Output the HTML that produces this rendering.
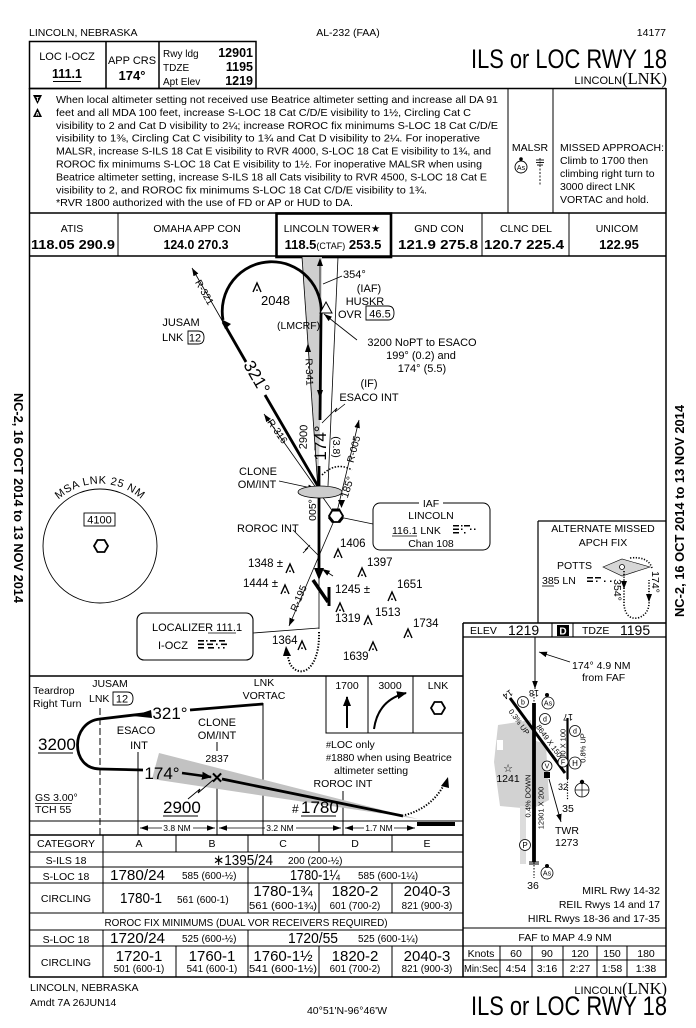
<!DOCTYPE html>
<html><head><meta charset="utf-8">
<style>
html,body{margin:0;padding:0;background:#fff;}
svg{display:block;}
text{font-family:"Liberation Sans",Arial,sans-serif;fill:#000;}
.b{font-weight:bold;}
.s{font-family:"Liberation Serif",serif;}
</style></head><body>
<svg width="696" height="1028" viewBox="0 0 696 1028" xmlns="http://www.w3.org/2000/svg">
<defs>
<marker id="a" markerUnits="userSpaceOnUse" markerWidth="8" markerHeight="8" viewBox="0 0 10 10" refX="10" refY="5" orient="auto"><path d="M0,1.5 L10,5 L0,8.5 z" fill="#000"/></marker>
<marker id="ab" markerUnits="userSpaceOnUse" markerWidth="10" markerHeight="10" viewBox="0 0 10 10" refX="9" refY="5" orient="auto"><path d="M0,1 L10,5 L0,9 z" fill="#000"/></marker>
<g id="ob"><path d="M-4,5 L0,-4 L4,5" fill="none" stroke="#000" stroke-width="1.4"/><circle cx="0" cy="3.2" r="0.9" fill="#000"/></g>
<g id="hex"><polygon points="7,0 3.5,-6 -3.5,-6 -7,0 -3.5,6 3.5,6" fill="#fff" stroke="#000" stroke-width="1.8"/></g>
</defs>

<!-- top line -->
<text x="29" y="36" font-size="10.5">LINCOLN, NEBRASKA</text>
<text x="348" y="36" font-size="10.5" text-anchor="middle">AL-232 (FAA)</text>
<text x="666" y="36" font-size="10.5" text-anchor="end">14177</text>

<!-- header box -->
<g stroke="#000" fill="none" stroke-width="1.5">
<rect x="29.5" y="41.5" width="226.5" height="47"/>
<line x1="106" y1="41.5" x2="106" y2="88.5"/>
<line x1="159" y1="41.5" x2="159" y2="88.5"/>
</g>
<text x="67" y="60" font-size="11" text-anchor="middle">LOC I-OCZ</text>
<text x="67" y="78" font-size="12.5" class="b" text-anchor="middle">111.1</text>
<line x1="53" y1="81.5" x2="81" y2="81.5" stroke="#000" stroke-width="1"/>
<text x="132" y="64" font-size="11" text-anchor="middle">APP CRS</text>
<text x="132" y="80" font-size="13" class="b" text-anchor="middle">174°</text>
<text x="163" y="57" font-size="10">Rwy ldg</text><text x="253" y="57" font-size="12.5" class="b" text-anchor="end">12901</text>
<text x="163" y="71" font-size="10">TDZE</text><text x="253" y="71" font-size="12.5" class="b" text-anchor="end">1195</text>
<text x="163" y="85" font-size="10">Apt Elev</text><text x="253" y="85" font-size="12.5" class="b" text-anchor="end">1219</text>

<text x="667" y="68" font-size="27" text-anchor="end" textLength="196" lengthAdjust="spacingAndGlyphs">ILS or LOC RWY 18</text>
<text x="667" y="84" text-anchor="end"><tspan font-size="11">LINCOLN</tspan><tspan class="s" font-size="16.5">(LNK)</tspan></text>

<!-- main frame -->
<g stroke="#000" fill="none" stroke-width="1.5">
<line x1="29.5" y1="88.5" x2="666" y2="88.5"/>
<line x1="29.5" y1="88" x2="29.5" y2="977.5"/>
<line x1="666" y1="88" x2="666" y2="977.5"/>
<line x1="29.5" y1="213" x2="666" y2="213"/>
<line x1="29.5" y1="256" x2="666" y2="256"/>
<line x1="29" y1="977" x2="666.5" y2="977"/>
<line x1="508" y1="88" x2="508" y2="213" stroke-width="1"/>
<line x1="553" y1="88" x2="553" y2="213" stroke-width="1"/>
<line x1="118" y1="213" x2="118" y2="256" stroke-width="1"/>
<line x1="482" y1="213" x2="482" y2="256" stroke-width="1"/>
<line x1="569" y1="213" x2="569" y2="256" stroke-width="1"/>
<rect x="276.5" y="213.5" width="114.5" height="43.5" stroke-width="2.6"/>
</g>

<!-- notes -->
<polygon points="33,95 42,95 37.5,104" fill="#000"/>
<text x="37.5" y="101" font-size="5.5" style="fill:#fff" text-anchor="middle" class="b">T</text>
<polygon points="37.5,108 33,117 42,117" fill="#000"/>
<text x="37.5" y="116" font-size="5.5" style="fill:#fff" text-anchor="middle" class="b">A</text>
<g font-size="10.5">
<text x="56" y="103" textLength="442" lengthAdjust="spacingAndGlyphs">When local altimeter setting not received use Beatrice altimeter setting and increase all DA 91</text>
<text x="56" y="115.9" textLength="415" lengthAdjust="spacingAndGlyphs">feet and all MDA 100 feet, increase S-LOC 18 Cat C/D/E visibility to 1½, Circling Cat C</text>
<text x="56" y="128.8" textLength="442" lengthAdjust="spacingAndGlyphs">visibility to 2 and Cat D visibility to 2¼;  increase ROROC fix minimums S-LOC 18 Cat C/D/E</text>
<text x="56" y="141.7" textLength="424" lengthAdjust="spacingAndGlyphs">visibility to 1⅜, Circling Cat C visibility to 1¾ and Cat D visibility to 2¼.  For inoperative</text>
<text x="56" y="154.6" textLength="435" lengthAdjust="spacingAndGlyphs">MALSR, increase S-ILS 18 Cat E visibility to RVR 4000, S-LOC 18 Cat E visibility to 1¾, and</text>
<text x="56" y="167.5" textLength="426" lengthAdjust="spacingAndGlyphs">ROROC fix minimums S-LOC 18 Cat E visibility to 1½.  For inoperative MALSR when using</text>
<text x="56" y="180.4" textLength="431" lengthAdjust="spacingAndGlyphs">Beatrice altimeter setting, increase S-ILS 18 all Cats visibility to RVR 4500, S-LOC 18 Cat E</text>
<text x="56" y="193.3" textLength="371" lengthAdjust="spacingAndGlyphs">visibility to 2, and ROROC fix minimums S-LOC 18 Cat C/D/E visibility to 1¾.</text>
<text x="56" y="206.2" textLength="297" lengthAdjust="spacingAndGlyphs">*RVR 1800 authorized with the use of FD or AP or HUD to DA.</text>
</g>
<text x="530" y="151" font-size="10.5" text-anchor="middle">MALSR</text>
<circle cx="521" cy="159" r="1.8" fill="#000"/>
<circle cx="521" cy="167" r="6" fill="none" stroke="#000" stroke-width="0.9"/>
<text x="521" y="170" font-size="7" text-anchor="middle">As</text>
<g stroke="#000" stroke-width="0.9">
<line x1="536" y1="160" x2="544" y2="160"/><line x1="536" y1="162.5" x2="544" y2="162.5"/><line x1="537" y1="165" x2="543" y2="165"/>
<line x1="540" y1="158" x2="540" y2="186" stroke-dasharray="2,1.5"/>
</g>
<g font-size="10.5">
<text x="560" y="151" textLength="104" lengthAdjust="spacingAndGlyphs">MISSED APPROACH:</text>
<text x="560" y="164">Climb to 1700 then</text>
<text x="560" y="177">climbing right turn to</text>
<text x="560" y="190">3000 direct LNK</text>
<text x="560" y="203">VORTAC and hold.</text>
</g>

<!-- frequency row -->
<g font-size="10.5" text-anchor="middle">
<text x="72" y="232">ATIS</text>
<text x="197" y="232">OMAHA APP CON</text>
<text x="332" y="232">LINCOLN TOWER★</text>
<text x="439" y="232">GND CON</text>
<text x="526" y="232">CLNC DEL</text>
<text x="617" y="232">UNICOM</text>
</g>
<g font-size="13" class="b" text-anchor="middle">
<text x="73" y="249" textLength="84" lengthAdjust="spacingAndGlyphs">118.05  290.9</text>
<text x="196" y="249" textLength="65" lengthAdjust="spacingAndGlyphs">124.0  270.3</text>
<text x="438" y="249" textLength="80" lengthAdjust="spacingAndGlyphs">121.9  275.8</text>
<text x="524" y="249" textLength="80" lengthAdjust="spacingAndGlyphs">120.7  225.4</text>
<text x="619" y="249">122.95</text>
</g>
<text x="333" y="249" text-anchor="middle"><tspan font-size="13" class="b">118.5</tspan><tspan font-size="9">(CTAF)</tspan><tspan font-size="13" class="b"> 253.5</tspan></text>

<!-- margin dates -->
<text transform="translate(14,498) rotate(90)" font-size="13" class="b" text-anchor="middle" textLength="210" lengthAdjust="spacingAndGlyphs">NC-2, 16 OCT 2014 to 13 NOV 2014</text>
<text transform="translate(684,511) rotate(-90)" font-size="13" class="b" text-anchor="middle" textLength="212" lengthAdjust="spacingAndGlyphs">NC-2, 16 OCT 2014 to 13 NOV 2014</text>

<!-- ============ PLAN VIEW ============ -->
<polygon points="302,257 322,257 320,430 318,490" fill="#cfcfcf"/>
<g stroke="#000" fill="none" stroke-width="0.8">
<line x1="302" y1="257" x2="318" y2="490"/>
<line x1="338" y1="257" x2="328" y2="486"/>
<line x1="320" y1="262" x2="320" y2="300"/>
<line x1="336" y1="516" x2="264" y2="414" marker-end="url(#a)"/>
<line x1="336" y1="516" x2="289" y2="626" marker-end="url(#a)"/>
<line x1="336" y1="516" x2="359" y2="420" marker-end="url(#a)"/>
<line x1="223" y1="322" x2="192" y2="268" marker-end="url(#a)"/>
<line x1="342" y1="276" x2="323" y2="284"/>
<line x1="357" y1="340" x2="324" y2="314" marker-end="url(#a)"/>
<line x1="279" y1="481" x2="316" y2="489" marker-end="url(#a)"/>
<line x1="293" y1="530" x2="318" y2="555"/>
<line x1="333" y1="576" x2="322" y2="569" marker-end="url(#a)"/>
<line x1="373" y1="524" x2="344" y2="518"/>
<line x1="319" y1="578" x2="319" y2="629"/>
<line x1="319" y1="628" x2="253" y2="633"/>
<path d="M345,404 L335,412 L337,408 L322,423" />
<path d="M310,545 L305,550 L308,548 L303,553"/>
<path d="M322,475 Q336,461 352,470" stroke-dasharray="1.5,1.5" stroke-width="1.5"/>
</g>
<polygon points="305,352 311,352 308,343" fill="#000"/>
<polygon points="317,390 323,390 320,399" fill="#000"/>
<polygon points="317,266 323,266 320,258" fill="#000"/>

<!-- teardrop and course -->
<g stroke="#000" fill="none" stroke-width="2.8">
<path d="M223,320 A49.5,49.5 0 1 1 321,316 L320,420"/>
<line x1="223" y1="322" x2="246" y2="362"/>
<line x1="265" y1="395" x2="319" y2="488"/>
<line x1="319" y1="466" x2="319" y2="570"/>
<path d="M313,580 L328,602" stroke-width="3.5"/>
<line x1="329" y1="587" x2="329" y2="606" stroke-width="3"/>
</g>
<polygon points="221,319 231,324 225,329" fill="#000"/>
<polygon points="314,568 324,568 319,580" fill="#000"/>
<path d="M319,632 C320,670 300,680 290,664 L287,654" fill="none" stroke="#000" stroke-width="2" stroke-dasharray="1.3,1.6"/>
<polygon points="283,656 291,656 286,646" fill="#000"/>
<text transform="translate(257,377) rotate(60)" font-size="17" text-anchor="middle" dy="6">321°</text>
<text transform="translate(320,443) rotate(-90)" font-size="17" text-anchor="middle" dy="6">174°</text>
<text transform="translate(303,437) rotate(-88)" font-size="11" text-anchor="middle" dy="4">2900</text>
<text transform="translate(337,447) rotate(90)" font-size="10.5" text-anchor="middle" dy="4">(3.8)</text>
<text transform="translate(353,449) rotate(-75)" font-size="10" text-anchor="middle" dy="4">R-005</text>
<text transform="translate(347,487) rotate(-72)" font-size="10.5" text-anchor="middle" dy="4">185°</text>
<text transform="translate(312,510) rotate(-90)" font-size="10.5" text-anchor="middle" dy="4">005°</text>
<text transform="translate(310,372) rotate(88)" font-size="10" text-anchor="middle" dy="4">R-341</text>
<text transform="translate(278,431) rotate(55)" font-size="10" text-anchor="middle" dy="4">R-316</text>
<text transform="translate(205,292) rotate(60)" font-size="10" text-anchor="middle" dy="4">R-321</text>
<text transform="translate(298,598) rotate(-67)" font-size="10" text-anchor="middle" dy="4">R-195</text>

<ellipse cx="320" cy="492" rx="22" ry="6" fill="#cdcdcd" stroke="#000" stroke-width="0.8"/>
<polygon points="338,500 345,500 341.5,508" fill="#000"/>
<use href="#hex" x="336" y="516"/>
<g stroke="#000" stroke-width="3"><line x1="332" y1="510" x2="340" y2="510"/><line x1="343" y1="517" x2="339" y2="522"/><line x1="329" y1="517" x2="333" y2="522"/></g>

<!-- plan labels -->
<use href="#ob" x="257" y="287"/>
<text x="261" y="305" font-size="13">2048</text>
<polygon points="326,302 332,313 320,313" fill="#fff" stroke="#000" stroke-width="1"/>
<text x="343" y="278" font-size="11">354°</text>
<text x="369" y="292" font-size="11" text-anchor="middle">(IAF)</text>
<text x="365" y="305" font-size="11" text-anchor="middle">HUSKR</text>
<text x="338" y="318" font-size="11">OVR</text>
<path d="M366,306 H388 Q394,306 394,313 Q394,320 388,320 H366 Z" fill="none" stroke="#000" stroke-width="0.9"/>
<text x="380" y="317.5" font-size="11" text-anchor="middle">46.5</text>
<text x="277" y="329" font-size="10.5">(LMCRF)</text>
<text x="181" y="326" font-size="11" text-anchor="middle">JUSAM</text>
<text x="162" y="341" font-size="11">LNK</text>
<path d="M188,331 H198 Q204,331 204,337.5 Q204,344 198,344 H188 Z" fill="none" stroke="#000" stroke-width="0.9"/>
<text x="195" y="341.5" font-size="11" text-anchor="middle">12</text>
<g font-size="11" text-anchor="middle">
<text x="422" y="346">3200 NoPT to ESACO</text>
<text x="421" y="359">199° (0.2) and</text>
<text x="422" y="372">174° (5.5)</text>
<text x="369" y="387">(IF)</text>
<text x="369" y="401">ESACO INT</text>
<text x="258" y="475">CLONE</text>
<text x="257" y="488">OM/INT</text>
</g>
<text x="237" y="532" font-size="11">ROROC INT</text>

<!-- IAF box -->
<rect x="373" y="503" width="117" height="47" rx="7" fill="none" stroke="#000" stroke-width="1"/>
<rect x="419" y="498" width="24" height="9" fill="#fff"/>
<g font-size="10.5" text-anchor="middle">
<text x="431" y="507">IAF</text>
<text x="431" y="519">LINCOLN</text>
<text x="431" y="547">Chan 108</text>
</g>
<text x="392" y="534" font-size="10.5">116.1 LNK</text>
<line x1="392" y1="536" x2="417" y2="536" stroke="#000" stroke-width="0.8"/>
<g fill="#000"><rect x="453" y="525" width="6" height="1.5"/><rect x="461" y="525" width="1.5" height="1.5"/><rect x="464" y="525" width="6" height="1.5"/><rect x="453" y="528.5" width="6" height="1.5"/><rect x="461" y="528.5" width="1.5" height="1.5"/><rect x="470" y="528.5" width="1.5" height="1.5"/><rect x="474" y="528.5" width="1.5" height="1.5"/><rect x="453" y="532" width="6" height="1.5"/><rect x="464" y="532" width="1.5" height="1.5"/></g>

<!-- MSA circle -->
<circle cx="100" cy="546" r="57" fill="none" stroke="#000" stroke-width="0.9"/>
<path id="msa" d="M40,530 A62,62 0 0 1 160,530" fill="none"/>
<text font-size="11" letter-spacing="0.6"><textPath href="#msa" startOffset="50%" text-anchor="middle">MSA LNK 25 NM</textPath></text>
<rect x="84" y="513" width="31" height="13" fill="none" stroke="#000" stroke-width="0.9"/>
<text x="99.5" y="523.5" font-size="11" text-anchor="middle">4100</text>
<use href="#hex" x="101" y="546"/>

<!-- obstacles -->
<g font-size="11.5">
<use href="#ob" x="338" y="553"/><text x="340" y="547">1406</text>
<use href="#ob" x="362" y="572"/><text x="367" y="566">1397</text>
<use href="#ob" x="290" y="568"/><text x="248" y="567">1348 ±</text>
<use href="#ob" x="285" y="589"/><text x="243" y="587">1444 ±</text>
<text x="335" y="593">1245 ±</text>
<use href="#ob" x="392" y="596"/><text x="397" y="588">1651</text>
<use href="#ob" x="340" y="607"/><text x="335" y="622">1319</text>
<use href="#ob" x="368" y="620"/><text x="375" y="616">1513</text>
<use href="#ob" x="408" y="633"/><text x="413" y="627">1734</text>
<use href="#ob" x="373" y="646"/><text x="343" y="660">1639</text>
<use href="#ob" x="302" y="645"/><text x="272" y="644">1364</text>
</g>

<!-- LOCALIZER box -->
<rect x="137" y="613" width="116" height="47" rx="7" fill="none" stroke="#000" stroke-width="1.1"/>
<text x="152" y="631" font-size="11">LOCALIZER 111.1</text>
<line x1="208" y1="633" x2="236" y2="633" stroke="#000" stroke-width="0.8"/>
<text x="158" y="649" font-size="11">I-OCZ</text>
<g fill="#000"><rect x="198" y="640" width="6" height="1.6"/><rect x="206" y="640" width="1.6" height="1.6"/><rect x="210" y="640" width="6" height="1.6"/><rect x="219" y="640" width="6" height="1.6"/><rect x="198" y="643.5" width="6" height="1.6"/><rect x="207" y="643.5" width="6" height="1.6"/><rect x="216" y="643.5" width="1.6" height="1.6"/><rect x="221" y="643.5" width="6" height="1.6"/><rect x="198" y="647" width="6" height="1.6"/><rect x="208" y="647" width="6" height="1.6"/><rect x="218" y="647" width="1.6" height="1.6"/><rect x="223" y="647" width="1.6" height="1.6"/></g>

<!-- alternate missed box -->
<g stroke="#000" stroke-width="1.2" fill="none">
<line x1="538" y1="521" x2="666" y2="521"/>
<line x1="538" y1="521" x2="538" y2="623"/>
<line x1="29.5" y1="676" x2="463" y2="676" stroke-width="1.5"/>
<line x1="463" y1="623" x2="463" y2="977" stroke-width="1.5"/>
<line x1="463" y1="623" x2="666" y2="623" stroke-width="1.5"/>
<line x1="463" y1="637" x2="666" y2="637"/>
</g>
<text x="603" y="532" font-size="10.5" text-anchor="middle">ALTERNATE MISSED</text>
<text x="603" y="546" font-size="10.5" text-anchor="middle">APCH FIX</text>
<text x="557" y="569" font-size="10.5">POTTS</text>
<text x="542" y="584" font-size="10.5">385  LN</text>
<line x1="542" y1="586" x2="554" y2="586" stroke="#000" stroke-width="0.8"/>
<g fill="#000"><rect x="587" y="577" width="6" height="1.5"/><rect x="595" y="577" width="6" height="1.5"/><rect x="587" y="580.5" width="6" height="1.5"/><rect x="596" y="580.5" width="1.5" height="1.5"/><rect x="604" y="580.5" width="1.5" height="1.5"/><rect x="610" y="580.5" width="1.5" height="1.5"/></g>
<polygon points="603,567 622,559 650,567 622,576" fill="#d6d6d6" stroke="#000" stroke-width="0.6"/>
<circle cx="622" cy="567" r="2.5" fill="#fff" stroke="#000" stroke-width="0.8"/>
<path d="M624,571 L624,605 Q626,620 638,618 Q650,614 649,600 L649,580 M630,558 Q648,556 652,568" fill="none" stroke="#000" stroke-width="1.6" stroke-dasharray="1.2,1.6"/>
<polygon points="621,581 627,581 624,589" fill="#000"/>
<polygon points="646,594 652,594 649,602" fill="#000"/>
<text transform="translate(655,582) rotate(90)" font-size="10.5" text-anchor="middle" dy="3">174°</text>
<text transform="translate(617,590) rotate(90)" font-size="10.5" text-anchor="middle" dy="3">354°</text>

<!-- ============ PROFILE ============ -->
<g stroke="#000" fill="none" stroke-width="1">
<rect x="326" y="676" width="137" height="57"/>
<line x1="368" y1="676" x2="368" y2="733"/>
<line x1="413" y1="676" x2="413" y2="733"/>
<line x1="29.5" y1="821" x2="463" y2="821"/>
<line x1="29.5" y1="835" x2="463" y2="835" stroke-width="1.5"/>
<line x1="100" y1="708" x2="100" y2="835" stroke-dasharray="7,3"/>
<line x1="138" y1="752" x2="138" y2="835"/>
<line x1="217" y1="742" x2="217" y2="751"/>
<line x1="217" y1="782" x2="217" y2="835"/>
<line x1="263" y1="703" x2="263" y2="835"/>
<line x1="343" y1="791" x2="343" y2="835"/>
</g>
<text x="347" y="689" font-size="10.5" text-anchor="middle">1700</text>
<text x="390" y="689" font-size="10.5" text-anchor="middle">3000</text>
<text x="438" y="689" font-size="10.5" text-anchor="middle">LNK</text>
<line x1="347" y1="728" x2="347" y2="697" stroke="#000" stroke-width="2" marker-end="url(#ab)"/>
<path d="M374,729 Q378,700 406,693" fill="none" stroke="#000" stroke-width="2" marker-end="url(#ab)"/>
<use href="#hex" x="438" y="708"/>
<g font-size="10.5">
<text x="326" y="748"><tspan font-size="9">#</tspan>LOC only</text>
<text x="326" y="761"><tspan font-size="9">#</tspan>1880 when using Beatrice</text>
<text x="334" y="774">altimeter setting</text>
<text x="343" y="787" text-anchor="middle">ROROC INT</text>
<text x="33" y="694">Teardrop</text>
<text x="33" y="707">Right Turn</text>
<text x="110" y="687" text-anchor="middle">JUSAM</text>
<text x="89" y="702">LNK</text>
<text x="264" y="686" text-anchor="middle">LNK</text>
<text x="264" y="699" text-anchor="middle">VORTAC</text>
<text x="136" y="734" text-anchor="middle" font-size="11">ESACO</text>
<text x="139" y="749" text-anchor="middle" font-size="11">INT</text>
<text x="217" y="726" text-anchor="middle" font-size="11">CLONE</text>
<text x="217" y="739" text-anchor="middle" font-size="11">OM/INT</text>
<text x="217" y="762" text-anchor="middle">2837</text>
<text x="35" y="801">GS 3.00°</text>
<text x="35" y="813">TCH 55</text>
</g>
<path d="M113,692 H127 Q133,692 133,698.5 Q133,705 127,705 H113 Z" fill="none" stroke="#000" stroke-width="0.9"/>
<text x="122" y="702.5" font-size="11" text-anchor="middle">12</text>
<line x1="35" y1="803.5" x2="72" y2="803.5" stroke="#000" stroke-width="0.8"/>

<polygon points="159,753 418,819 152,779" fill="#c2c2c2"/>
<g stroke="#000" fill="none" stroke-width="2.8">
<line x1="263" y1="704" x2="190" y2="710"/>
<path d="M151,713 L100,719 C70,722 70,769 100,769 L143,770"/>
<line x1="222" y1="779" x2="403" y2="816"/>
</g>
<polygon points="133,716 151,710 152,718" fill="#000"/>
<line x1="182" y1="773" x2="211" y2="777" stroke="#000" stroke-width="2.5" marker-end="url(#ab)"/>
<text x="170" y="719" font-size="17" text-anchor="middle">321°</text>
<text x="162" y="779" font-size="17" text-anchor="middle">174°</text>
<text x="217" y="783" font-size="15" class="b" text-anchor="middle">✕</text>
<path d="M405,815 Q432,808 445,783" fill="none" stroke="#000" stroke-width="2" stroke-dasharray="1.3,1.6"/>
<polygon points="441,786 449,788 448,777" fill="#000"/>
<path d="M188,799 L200,789 L198,793 L213,780" fill="none" stroke="#000" stroke-width="0.9"/>
<text x="38" y="750" font-size="17">3200</text>
<line x1="38" y1="753" x2="73" y2="753" stroke="#000" stroke-width="1"/>
<text x="163" y="813" font-size="17">2900</text>
<line x1="163" y1="816" x2="198" y2="816" stroke="#000" stroke-width="1"/>
<text x="292" y="813" font-size="12">#</text>
<text x="301" y="813" font-size="17">1780</text>
<line x1="301" y1="816" x2="336" y2="816" stroke="#000" stroke-width="1"/>
<rect x="417" y="822" width="38" height="4" fill="#000"/>
<g font-size="8.5" text-anchor="middle">
<text x="177" y="831">3.8 NM</text>
<text x="280" y="831">3.2 NM</text>
<text x="379" y="831">1.7 NM</text>
</g>
<g stroke="#000" stroke-width="0.8" fill="none">
<line x1="162" y1="828" x2="140" y2="828" marker-end="url(#a)"/><line x1="193" y1="828" x2="215" y2="828" marker-end="url(#a)"/>
<line x1="265" y1="828" x2="219" y2="828" marker-end="url(#a)"/><line x1="296" y1="828" x2="341" y2="828" marker-end="url(#a)"/>
<line x1="364" y1="828" x2="345" y2="828" marker-end="url(#a)"/><line x1="394" y1="828" x2="415" y2="828" marker-end="url(#a)"/>
</g>

<!-- ============ MINIMUMS TABLE ============ -->
<g stroke="#000" stroke-width="1" fill="none">
<line x1="29.5" y1="852" x2="463" y2="852"/>
<line x1="29.5" y1="867" x2="463" y2="867"/>
<line x1="29.5" y1="883" x2="463" y2="883"/>
<line x1="29.5" y1="913" x2="463" y2="913"/>
<line x1="29.5" y1="930" x2="463" y2="930"/>
<line x1="29.5" y1="946" x2="463" y2="946"/>
<line x1="103" y1="835" x2="103" y2="913"/>
<line x1="103" y1="930" x2="103" y2="977"/>
<line x1="176" y1="835" x2="176" y2="852"/>
<line x1="176" y1="946" x2="176" y2="977"/>
<line x1="248" y1="835" x2="248" y2="852"/>
<line x1="248" y1="867" x2="248" y2="913"/>
<line x1="248" y1="930" x2="248" y2="977"/>
<line x1="319" y1="835" x2="319" y2="852"/>
<line x1="319" y1="883" x2="319" y2="913"/>
<line x1="319" y1="946" x2="319" y2="977"/>
<line x1="392" y1="835" x2="392" y2="852"/>
<line x1="392" y1="883" x2="392" y2="913"/>
<line x1="392" y1="946" x2="392" y2="977"/>
</g>
<g font-size="10.5" text-anchor="middle">
<text x="66" y="847">CATEGORY</text>
<text x="139" y="847">A</text><text x="212" y="847">B</text><text x="283" y="847">C</text><text x="355" y="847">D</text><text x="427" y="847">E</text>
<text x="66" y="864">S-ILS 18</text>
<text x="66" y="880">S-LOC 18</text>
<text x="66" y="902">CIRCLING</text>
<text x="246" y="926" textLength="283" lengthAdjust="spacingAndGlyphs">ROROC FIX MINIMUMS (DUAL VOR RECEIVERS REQUIRED)</text>
<text x="66" y="943">S-LOC 18</text>
<text x="66" y="966">CIRCLING</text>
</g>
<g font-size="15">
<text x="213" y="865" textLength="60" lengthAdjust="spacingAndGlyphs">∗1395/24</text>
<text x="110" y="880" textLength="55" lengthAdjust="spacingAndGlyphs">1780/24</text>
<text x="290" y="880" textLength="50" lengthAdjust="spacingAndGlyphs">1780-1¼</text>
<text x="120" y="903" textLength="42" lengthAdjust="spacingAndGlyphs">1780-1</text>
<text x="110" y="943" textLength="55" lengthAdjust="spacingAndGlyphs">1720/24</text>
<text x="288" y="943" textLength="50" lengthAdjust="spacingAndGlyphs">1720/55</text>
</g>
<g font-size="15" text-anchor="middle">
<text x="283" y="896">1780-1¾</text>
<text x="355" y="896">1820-2</text>
<text x="427" y="896">2040-3</text>
<text x="139" y="961">1720-1</text>
<text x="212" y="961">1760-1</text>
<text x="283" y="961">1760-1½</text>
<text x="355" y="961">1820-2</text>
<text x="427" y="961">2040-3</text>
</g>
<g font-size="10">
<text x="288" y="864">200 (200-½)</text>
<text x="182" y="879">585 (600-½)</text>
<text x="358" y="879">585 (600-1¼)</text>
<text x="177" y="903">561 (600-1)</text>
<text x="182" y="942">525 (600-½)</text>
<text x="358" y="942">525 (600-1¼)</text>
</g>
<g font-size="9.8" text-anchor="middle">
<text x="283" y="909" textLength="68" lengthAdjust="spacingAndGlyphs">561 (600-1¾)</text>
<text x="355" y="909">601 (700-2)</text>
<text x="427" y="909">821 (900-3)</text>
<text x="139" y="972">501 (600-1)</text>
<text x="212" y="972">541 (600-1)</text>
<text x="283" y="972" textLength="68" lengthAdjust="spacingAndGlyphs">541 (600-1½)</text>
<text x="355" y="972">601 (700-2)</text>
<text x="427" y="972">821 (900-3)</text>
</g>

<!-- ============ AIRPORT PANEL ============ -->
<text x="470" y="634" font-size="10.5">ELEV</text>
<text x="508" y="635" font-size="14">1219</text>
<line x1="552" y1="623" x2="552" y2="637" stroke="#000" stroke-width="1"/>
<rect x="557" y="625" width="12" height="11" fill="#000"/>
<text x="563" y="634.5" font-size="10" class="b" text-anchor="middle" style="fill:#fff">D</text>
<line x1="573" y1="623" x2="573" y2="637" stroke="#000" stroke-width="1"/>
<text x="582" y="634" font-size="10.5">TDZE</text>
<text x="620" y="635" font-size="14">1195</text>

<line x1="535" y1="637" x2="535" y2="689" stroke="#000" stroke-width="1" marker-end="url(#a)"/>
<line x1="570" y1="662" x2="539" y2="652" stroke="#000" stroke-width="0.9" marker-end="url(#a)"/>
<text x="572" y="669" font-size="10.5">174° 4.9 NM</text>
<text x="582" y="681" font-size="10.5">from FAF</text>

<polygon points="498,725 531,720 533,740 546,744 549,800 532,809 500,806 494,762" fill="#d2d2d2"/>
<rect x="520" y="806" width="6" height="58" fill="#dcdcdc"/>
<rect x="497" y="740" width="6" height="10" fill="#fff"/>
<g stroke="#000" fill="none">
<line x1="534" y1="703" x2="534" y2="862" stroke-width="3.8"/>
<line x1="534" y1="862" x2="534" y2="878" stroke-width="1" stroke-dasharray="1.5,1.5"/>
<line x1="534" y1="694" x2="534" y2="703" stroke-width="1" stroke-dasharray="1.5,1.5"/>
<line x1="510" y1="698" x2="565" y2="773" stroke-width="3"/>
<line x1="567.5" y1="718" x2="567.5" y2="779" stroke-width="2.2"/>
<line x1="567.5" y1="779" x2="567.5" y2="800" stroke-width="1.2" stroke-dasharray="1.2,1.5"/>
<line x1="529" y1="862" x2="539" y2="862" stroke-width="1"/><line x1="529" y1="864" x2="539" y2="864" stroke-width="1"/>
<line x1="549" y1="779" x2="561" y2="822" stroke-width="0.9" marker-end="url(#a)"/>
</g>
<g font-size="9" text-anchor="middle">
<text transform="translate(534,690) rotate(180)">18</text>
<text transform="translate(568,714) rotate(180)">17</text>
<text transform="translate(506,692) rotate(145)">14</text>
<text x="563" y="790">32</text>
<text x="568" y="812" font-size="10.5">35</text>
<text x="533" y="889" font-size="10.5">36</text>
</g>
<g font-size="7.5" text-anchor="middle">
<text transform="translate(563,748) rotate(-90)" dy="2.5">5800 X 100</text>
<text transform="translate(583,748) rotate(-90)" dy="2.5">0.8% UP</text>
<text transform="translate(549,741) rotate(54)" dy="2.5">8649 X 150</text>
<text transform="translate(519,722) rotate(54)" dy="2.5">0.3% UP</text>
<text transform="translate(528,796) rotate(-90)" dy="2.5">0.4% DOWN</text>
<text transform="translate(541,808) rotate(-90)" dy="2.5">12901 X 200</text>
</g>
<g fill="#fff" stroke="#000" stroke-width="0.8">
<circle cx="523" cy="702" r="5.5"/><circle cx="548" cy="703" r="6"/><circle cx="545" cy="719" r="5.5"/>
<circle cx="575" cy="731" r="5.5"/><circle cx="575" cy="763" r="6"/><circle cx="563" cy="762" r="5"/>
<circle cx="547" cy="766" r="5"/><circle cx="525" cy="845" r="5.5"/><circle cx="547" cy="873" r="6"/>
<circle cx="582" cy="790" r="7"/>
</g>
<g fill="#000">
<circle cx="547" cy="695" r="2"/><circle cx="547" cy="866" r="2"/><circle cx="582" cy="782" r="2.2"/>
<rect x="544" y="772" width="6" height="6"/>
</g>
<line x1="575" y1="790" x2="589" y2="790" stroke="#000" stroke-width="0.7"/><line x1="582" y1="783" x2="582" y2="797" stroke="#000" stroke-width="0.7"/>
<g font-size="7" text-anchor="middle">
<text x="523" y="704.5">b</text><text x="548" y="705.5">As</text><text x="545" y="721.5">d</text>
<text x="575" y="733.5">d</text><text x="575" y="766" font-size="8">H</text><text x="563" y="764.5">F</text>
<text x="547" y="768.5">V</text><text x="525" y="848" font-size="8">P</text><text x="547" y="875.5">As</text>
</g>
<text x="508" y="772" font-size="11" text-anchor="middle">☆</text>
<text x="508" y="782" font-size="10.5" text-anchor="middle">1241</text>
<text x="555" y="834" font-size="10.5">TWR</text>
<text x="555" y="846" font-size="10.5">1273</text>

<g font-size="10.5" text-anchor="end">
<text x="660" y="894">MIRL Rwy 14-32</text>
<text x="660" y="908">REIL Rwys 14 and 17</text>
<text x="660" y="922">HIRL Rwys 18-36 and 17-35</text>
</g>
<g stroke="#000" stroke-width="1" fill="none">
<line x1="463" y1="928" x2="666" y2="928"/>
<line x1="463" y1="946" x2="666" y2="946"/>
<line x1="463" y1="960" x2="666" y2="960"/>
<line x1="500" y1="946" x2="500" y2="977"/>
<line x1="532" y1="946" x2="532" y2="977"/>
<line x1="563" y1="946" x2="563" y2="977"/>
<line x1="597" y1="946" x2="597" y2="977"/>
<line x1="627" y1="946" x2="627" y2="977"/>
</g>
<text x="565" y="941" font-size="10.5" text-anchor="middle">FAF to MAP  4.9 NM</text>
<g font-size="10.5" text-anchor="middle">
<text x="481" y="957">Knots</text>
<text x="516" y="957">60</text><text x="547" y="957">90</text><text x="580" y="957">120</text><text x="612" y="957">150</text><text x="646" y="957">180</text>
<text x="481" y="972" textLength="34" lengthAdjust="spacingAndGlyphs">Min:Sec</text>
<text x="516" y="972">4:54</text><text x="547" y="972">3:16</text><text x="580" y="972">2:27</text><text x="612" y="972">1:58</text><text x="646" y="972">1:38</text>
</g>

<!-- bottom -->
<text x="30" y="991" font-size="10.5">LINCOLN, NEBRASKA</text>
<text x="30" y="1006" font-size="10.5">Amdt 7A  26JUN14</text>
<text x="347" y="1014" font-size="10.5" text-anchor="middle">40°51'N-96°46'W</text>
<text x="667" y="994" text-anchor="end"><tspan font-size="11">LINCOLN</tspan><tspan class="s" font-size="16.5">(LNK)</tspan></text>
<text x="667" y="1015" font-size="27" text-anchor="end" textLength="196" lengthAdjust="spacingAndGlyphs">ILS or LOC RWY 18</text>
</svg>
</body></html>
